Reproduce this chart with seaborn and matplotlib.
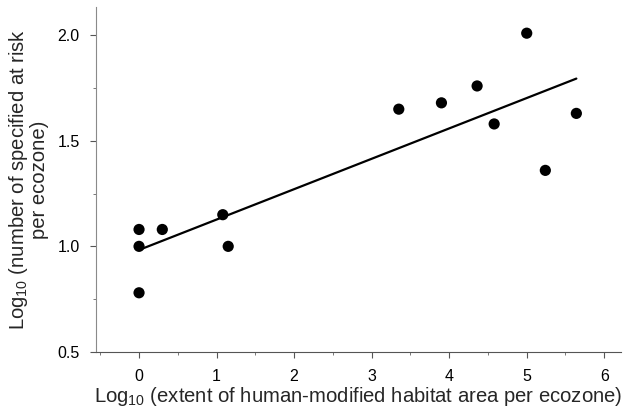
import numpy as np
import matplotlib
matplotlib.use("Agg")
import matplotlib.pyplot as plt
import seaborn as sns
import pandas as pd
from matplotlib.ticker import MultipleLocator

# values
habitat_log = [0.0, 0.0, 0.0, 0.30, 1.08, 1.15, 3.35, 3.90, 4.36, 4.58, 5.00, 5.24, 5.64]
risk_log = [1.08, 1.00, 0.78, 1.08, 1.15, 1.00, 1.65, 1.68, 1.76, 1.58, 2.01, 1.36, 1.63]

x_ticks = [0, 1, 2, 3, 4, 5, 6]
y_ticks = [0.5, 1.0, 1.5, 2.0]

df = pd.DataFrame({"habitat": habitat_log, "risk": risk_log})

sns.set_style("ticks")
plt.rcParams["font.family"] = ["Liberation Sans", "DejaVu Sans"]
plt.rcParams["mathtext.fontset"] = "custom"
plt.rcParams["mathtext.rm"] = "Liberation Sans"
plt.rcParams["mathtext.default"] = "rm"

fig, ax = plt.subplots(figsize=(6.3, 4.13), dpi=100)

sns.regplot(data=df, x="habitat", y="risk", ci=None, truncate=True, ax=ax,
            scatter_kws={"s": 65, "color": "black", "edgecolor": "none", "alpha": 1},
            line_kws={"color": "black", "lw": 1.6})

ax.set_xlim(-0.55, 6.21)
ax.set_ylim(0.5, 2.134)
ax.set_xticks(x_ticks)
ax.set_yticks(y_ticks)
ax.set_yticklabels([f"{v:.1f}" for v in y_ticks])
ax.xaxis.set_minor_locator(MultipleLocator(0.5))
ax.yaxis.set_minor_locator(MultipleLocator(0.25))

sns.despine(ax=ax)
ax.spines["left"].set_color("#8a8a8a")
ax.spines["bottom"].set_color("#555555")
ax.tick_params(axis="both", which="major", length=4, width=0.8, labelsize=11.5,
               colors="#555555", labelcolor="black", pad=8)
ax.tick_params(axis="both", which="minor", length=2.5, width=0.7, colors="#777777")

ax.set_xlabel(r"Log$_{10}$ (extent of human-modified habitat area per ecozone)",
              fontsize=14.6, labelpad=1)
ax.set_ylabel("Log$_{10}$ (number of specified at risk\nper ecozone)",
              fontsize=14.6, labelpad=6, linespacing=1.0)

fig.subplots_adjust(left=0.153, right=0.985, bottom=0.148, top=0.983)
fig.savefig("out.png", dpi=100)
